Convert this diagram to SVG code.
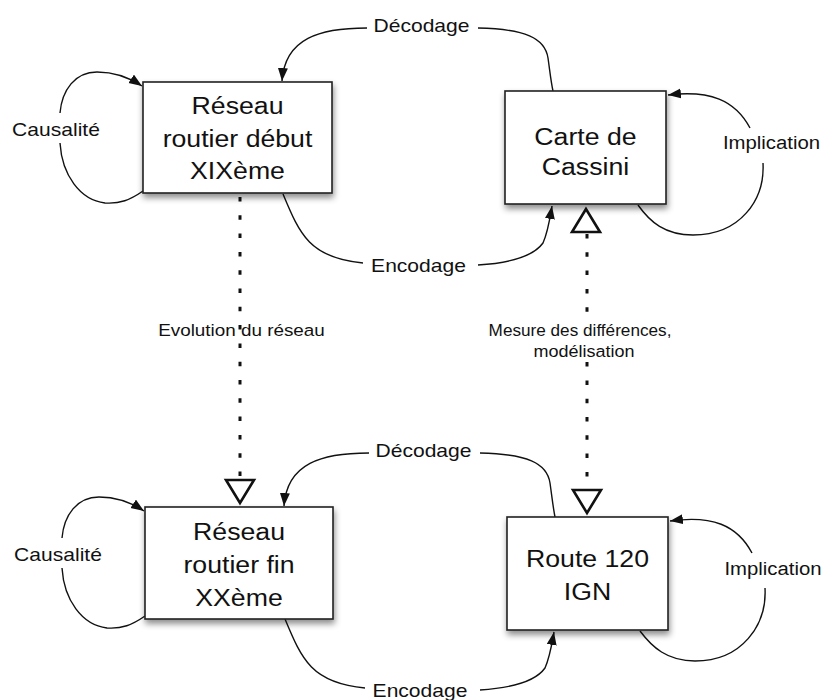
<svg xmlns="http://www.w3.org/2000/svg" width="825" height="700" viewBox="0 0 825 700">
<defs>
<style>
text{font-family:"Liberation Sans",Arial,Helvetica,sans-serif;fill:#111;text-anchor:middle}
.big{font-size:23px}
.lbl{font-size:18px}
.mid{font-size:17px}
.box{fill:#fff;stroke:#222;stroke-width:1.6;filter:url(#shadow)}
.edge{fill:none;stroke:#111;stroke-width:1.4}
.dot{fill:none;stroke:#111;stroke-width:3;stroke-dasharray:4.5 13.8}
.tri{fill:#fff;stroke:#111;stroke-width:2.6;stroke-linejoin:miter}
</style>
<filter id="shadow" x="-20%" y="-20%" width="140%" height="150%">
<feDropShadow dx="1" dy="4" stdDeviation="3" flood-color="#000" flood-opacity="0.45"/>
</filter>
<marker id="arr" markerUnits="userSpaceOnUse" markerWidth="14" markerHeight="11" refX="13" refY="5" orient="auto">
<path d="M0,0 L13,5 L0,10 z" fill="#111"/>
</marker>
</defs>
<rect width="825" height="700" fill="#fff"/>

<g id="connectors">
<g id="top-edges">
<path class="edge" d="M143,191 C130,200 120,204 105,203 C80,200 62,175 60,143"/>
<path class="edge" d="M60,113 C62,90 75,72 97,72 C115,72 130,78 142,86" marker-end="url(#arr)"/>
<path class="edge" d="M367,28 C320,28 285,38 282,81" marker-end="url(#arr)"/>
<path class="edge" d="M478,28 C525,29 545,38 548,58 C550,72 551,82 553,91"/>
<path class="edge" d="M283,194 C300,235 310,258 363,263"/>
<path class="edge" d="M478,265 C510,263 533,257 543,243 C548,232 550,218 552,206" marker-end="url(#arr)"/>
<path class="edge" d="M638,205 C650,222 665,235 693,235 C740,235 765,200 763,163"/>
<path class="edge" d="M750,128 C735,100 710,90 668,95" marker-end="url(#arr)"/>
</g>
<g id="bottom-edges" transform="translate(2,425)">
<path class="edge" d="M143,191 C130,200 120,204 105,203 C80,200 62,175 60,143"/>
<path class="edge" d="M60,113 C62,90 75,72 97,72 C115,72 130,78 142,86" marker-end="url(#arr)"/>
<path class="edge" d="M367,28 C320,28 285,38 282,81" marker-end="url(#arr)"/>
<path class="edge" d="M478,28 C525,29 545,38 548,58 C550,72 551,82 553,92"/>
<path class="edge" d="M283,194 C300,235 310,258 363,263"/>
<path class="edge" d="M478,265 C510,263 533,257 543,243 C548,232 550,218 552,207" marker-end="url(#arr)"/>
<path class="edge" d="M638,206 C650,222 665,236 693,236 C740,236 765,200 763,163"/>
<path class="edge" d="M750,128 C735,100 710,90 668,96" marker-end="url(#arr)"/>
</g>
<g id="dotted-edges">
<path class="dot" d="M240,197 L240,479"/>
<polygon class="tri" points="226,480 254,480 240,503"/>
<path class="dot" d="M587,234 L587,312 M587,362.1 L587,488"/>
<polygon class="tri" points="586,209 572,232 600,232"/>
<polygon class="tri" points="573,490 601,490 587,513"/>
</g>
<g id="edge-labels">
<text class="lbl" transform="matrix(1.17 0 0 1 56 0)" y="136">Causalité</text>
<text class="lbl" transform="matrix(1.17 0 0 1 421.5 0)" y="32">Décodage</text>
<text class="lbl" transform="matrix(1.17 0 0 1 418.5 0)" y="272">Encodage</text>
<text class="lbl" transform="matrix(1.13 0 0 1 771.5 0)" y="149">Implication</text>
<text class="lbl" transform="matrix(1.17 0 0 1 58 0)" y="561">Causalité</text>
<text class="lbl" transform="matrix(1.17 0 0 1 423.5 0)" y="457">Décodage</text>
<text class="lbl" transform="matrix(1.17 0 0 1 420 0)" y="697">Encodage</text>
<text class="lbl" transform="matrix(1.13 0 0 1 773 0)" y="575">Implication</text>
<text class="mid" transform="matrix(1.11 0 0 1 241.5 0)" y="336">Evolution du réseau</text>
<text class="mid" transform="matrix(1.01 0 0 1 580 0)" y="336">Mesure des différences,</text>
<text class="mid" transform="matrix(1.06 0 0 1 584 0)" y="357">modélisation</text>
</g>
</g>

<g id="node-reseau-xix">
<rect class="box" x="143" y="82" width="189" height="111"/>
<text class="big" transform="matrix(1.16 0 0 1 237.5 0)" y="114">Réseau</text>
<text class="big" transform="matrix(1.16 0 0 1 237.5 0)" y="147">routier début</text>
<text class="big" transform="matrix(1.16 0 0 1 237.5 0)" y="179">XIXème</text>
</g>

<g id="node-cassini">
<rect class="box" x="505" y="91" width="161" height="113"/>
<text class="big" transform="matrix(1.16 0 0 1 585.5 0)" y="145">Carte de</text>
<text class="big" transform="matrix(1.16 0 0 1 585.5 0)" y="175">Cassini</text>
</g>

<g id="node-reseau-xx">
<rect class="box" x="145" y="507" width="188" height="112"/>
<text class="big" transform="matrix(1.16 0 0 1 239 0)" y="540">Réseau</text>
<text class="big" transform="matrix(1.16 0 0 1 239 0)" y="573">routier fin</text>
<text class="big" transform="matrix(1.16 0 0 1 239 0)" y="606">XXème</text>
</g>

<g id="node-route120">
<rect class="box" x="507" y="517" width="161" height="113"/>
<text class="big" transform="matrix(1.16 0 0 1 587.5 0)" y="567">Route 120</text>
<text class="big" transform="matrix(1.16 0 0 1 587.5 0)" y="600">IGN</text>
</g>
</svg>
